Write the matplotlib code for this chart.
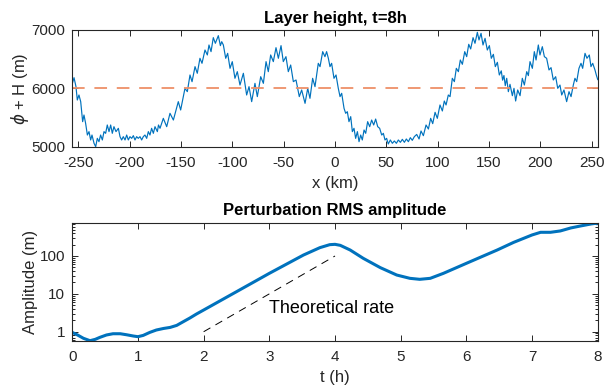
import matplotlib
matplotlib.use('Agg')
import matplotlib.pyplot as plt
from matplotlib.ticker import FixedLocator, FixedFormatter, LogLocator, NullFormatter

plt.rcParams['font.family'] = ['Liberation Sans', 'DejaVu Sans']
plt.rcParams['mathtext.fontset'] = 'dejavusans'
plt.rcParams['axes.unicode_minus'] = False

# ---------------- data: layer height at t = 8 h ----------------
x_km = [-256.0, -254.3, -252.4, -251.1, -249.5, -247.8, -245.9, -244.6, -243.0, -241.3,
        -239.7, -238.1, -236.8, -234.8, -233.2, -231.6, -230.0, -228.4, -226.7, -225.1,
        -223.5, -221.9, -220.2, -218.6, -217.0, -215.4, -213.4, -211.1, -209.5, -207.9,
        -206.3, -204.6, -203.0, -201.4, -199.8, -198.1, -196.5, -194.9, -193.3, -191.7,
        -190.0, -188.4, -186.8, -185.2, -183.5, -181.9, -180.3, -178.7, -177.0, -175.4,
        -173.1, -172.0, -170.5, -167.3, -164.0, -160.8, -157.5, -152.7, -150.4, -147.8,
        -146.2, -143.9, -141.3, -139.3, -136.4, -134.2, -131.6, -129.6, -126.7, -124.4,
        -122.8, -120.8, -118.6, -116.6, -113.7, -111.7, -110.4, -108.8, -106.5, -104.6,
        -102.3, -100.1, -97.5, -95.2, -92.6, -89.3, -86.1, -83.8, -81.2, -78.0,
        -75.7, -72.4, -69.8, -67.2, -65.0, -62.7, -60.1, -57.5, -55.2, -52.6,
        -50.4, -47.8, -45.5, -43.2, -40.6, -38.0, -34.8, -32.5, -29.2, -26.6,
        -24.4, -21.8, -19.5, -16.3, -14.6, -12.0, -9.8, -8.2, -6.5, -4.9,
        -3.3, -1.0, 1.0, 3.2, 4.9, 6.5, 8.8, 10.4, 12.0, 13.6,
        15.3, 16.9, 18.5, 20.1, 21.8, 23.4, 25.0, 26.6, 28.3, 29.9,
        31.8, 33.8, 35.7, 37.7, 39.6, 41.6, 43.5, 45.5, 47.1, 48.7,
        50.3, 51.9, 53.9, 55.9, 57.8, 59.8, 61.7, 63.7, 65.6, 67.6,
        69.5, 71.5, 73.4, 75.3, 77.3, 79.6, 81.9, 83.8, 86.1, 88.7,
        91.0, 93.2, 95.2, 97.5, 99.7, 102.3, 104.6, 106.5, 108.2, 110.4,
        112.1, 114.3, 116.3, 118.2, 120.2, 122.1, 124.1, 126.4, 128.3, 130.3,
        132.2, 134.5, 136.4, 138.7, 140.3, 142.3, 144.2, 146.2, 148.4, 150.4,
        152.3, 154.3, 156.2, 158.2, 160.1, 162.0, 163.3, 164.6, 165.9, 167.3,
        168.9, 170.5, 172.8, 174.4, 176.0, 178.0, 180.3, 182.5, 184.5, 186.8,
        188.4, 190.0, 192.3, 194.2, 195.9, 198.1, 199.7, 202.0, 204.0, 206.2,
        208.5, 210.5, 212.7, 215.0, 217.0, 219.2, 220.9, 223.1, 225.7, 228.0,
        230.0, 232.2, 233.8, 235.5, 237.7, 239.7, 241.3, 243.6, 245.5, 247.8,
        249.4, 251.1, 253.3, 254.6, 256.0]
height_m = [6080, 6183, 6029, 5800, 5886, 5772, 5429, 5543, 5400, 5200,
            5258, 5115, 5200, 5058, 5000, 5143, 5086, 5200, 5115, 5258,
            5229, 5372, 5258, 5372, 5229, 5343, 5258, 5315, 5172, 5115,
            5172, 5115, 5200, 5115, 5172, 5143, 5189, 5115, 5172, 5143,
            5172, 5115, 5172, 5200, 5143, 5258, 5200, 5315, 5229, 5343,
            5258, 5372, 5315, 5486, 5343, 5572, 5457, 5772, 5629, 5858,
            6000, 5943, 6229, 6114, 6372, 6258, 6515, 6429, 6657, 6572,
            6743, 6629, 6869, 6772, 6903, 6732, 6800, 6743, 6515, 6600,
            6343, 6457, 6172, 6286, 6057, 6258, 5886, 6029, 5772, 6086,
            5858, 6200, 6086, 6458, 6286, 6572, 6458, 6697, 6515, 6732,
            6458, 6543, 6286, 6400, 6115, 6143, 5858, 5972, 5743, 6000,
            5829, 6172, 6029, 6429, 6372, 6629, 6543, 6629, 6515, 6372,
            6429, 6172, 6229, 6000, 5858, 5915, 5657, 5572, 5600, 5429,
            5515, 5258, 5315, 5143, 5258, 5086, 5200, 5115, 5286, 5229,
            5429, 5343, 5457, 5372, 5474, 5343, 5315, 5200, 5229, 5115,
            5143, 5046, 5115, 5058, 5098, 5058, 5115, 5075, 5126, 5075,
            5132, 5086, 5155, 5109, 5172, 5210, 5132, 5269, 5189, 5372,
            5303, 5486, 5395, 5589, 5486, 5715, 5612, 5783, 5715, 5886,
            5858, 6172, 6115, 6343, 6286, 6486, 6412, 6629, 6543, 6755,
            6675, 6869, 6772, 6960, 6829, 6943, 6743, 6857, 6657, 6732,
            6515, 6583, 6372, 6446, 6229, 6300, 6140, 6220, 6046, 6172,
            5943, 6069, 5874, 6000, 5783, 5972, 5874, 6172, 6057, 6286,
            6218, 6458, 6343, 6629, 6486, 6743, 6572, 6714, 6543, 6515,
            6315, 6355, 6143, 6200, 6000, 6057, 5886, 5972, 5772, 5943,
            5858, 6057, 6172, 6115, 6343, 6429, 6343, 6600, 6515, 6572,
            6372, 6429, 6315, 6229, 6150]
mean_height = 6000
x_ticks = [-250, -200, -150, -100, -50, 0, 50, 100, 150, 200, 250]
h_ticks = [5000, 6000, 7000]

# ---------------- data: perturbation RMS amplitude ----------------
t_h = [0, 0.08, 0.17, 0.27, 0.35, 0.42, 0.52, 0.62, 0.73, 0.83,
       0.93, 1.0, 1.08, 1.18, 1.28, 1.39, 1.49, 1.59, 1.69, 1.79,
       1.89, 2.0, 2.5, 3.0, 3.52, 3.77, 3.92, 4.0, 4.08, 4.23,
       4.43, 4.69, 4.94, 5.14, 5.29, 5.45, 5.65, 6.0, 6.21, 6.47,
       6.72, 7.0, 7.13, 7.28, 7.43, 7.59, 7.74, 7.9, 7.97, 8.0]
amp_m = [0.96, 0.82, 0.67, 0.58, 0.63, 0.71, 0.82, 0.885, 0.885, 0.83,
         0.77, 0.74, 0.80, 0.96, 1.11, 1.22, 1.30, 1.47, 1.84, 2.30,
         2.93, 3.74, 11.4, 34.8, 106, 166, 199, 203, 191, 144,
         86.7, 49.2, 31.4, 25.7, 24.2, 25.7, 34.8, 64, 92, 144,
         229, 359, 422, 422, 458, 550, 621, 701, 730, 700]
theory_t = [2, 4]
theory_amp = [1, 100]
t_ticks = [0, 1, 2, 3, 4, 5, 6, 7, 8]
amp_ticks = [1, 10, 100]
amp_tick_labels = ['1', '10', '100']

# ---------------- styling ----------------
BLUE = '#0072BD'
ORANGE = '#EE9068'
DARK = '#262626'
TICK_FS = 11
LABEL_FS = 12
TITLE_FS = 12

fig = plt.figure(figsize=(6.11, 3.89), dpi=100)
ax1 = fig.add_axes([0.1183, 0.6229, 0.860, 0.300])
ax2 = fig.add_axes([0.1183, 0.1242, 0.860, 0.3018])


def style(ax):
    for s in ax.spines.values():
        s.set_color(DARK)
        s.set_linewidth(0.8)
    ax.tick_params(which='both', direction='in', top=True, right=True,
                   colors=DARK, labelsize=TICK_FS, width=0.7)
    ax.tick_params(axis='x', pad=7)
    ax.tick_params(axis='y', pad=5)
    ax.tick_params(which='major', length=4)
    ax.tick_params(which='minor', length=2.2)


# top panel
ax1.plot(x_km, height_m, color=BLUE, lw=0.85)
ax1.plot([x_km[0], x_km[-1]], [mean_height, mean_height], color=ORANGE,
         lw=1.3, linestyle=(0, (7.0, 5.4)))
ax1.set_xlim(x_km[0], x_km[-1])
ax1.set_ylim(h_ticks[0], h_ticks[-1])
ax1.set_xticks(x_ticks)
ax1.set_yticks(h_ticks)
style(ax1)
ax1.set_title('Layer height, t=8h', fontsize=TITLE_FS, fontweight='bold',
              color='black', pad=5)
ax1.set_xlabel('x (km)', fontsize=LABEL_FS, color=DARK, labelpad=4)
ax1.set_ylabel(r'$\phi$ + H (m)', fontsize=LABEL_FS, color=DARK, labelpad=0)

# bottom panel
ax2.set_yscale('log')
ax2.plot(t_h, amp_m, color=BLUE, lw=2.2, solid_capstyle='butt')
ax2.plot(theory_t, theory_amp, color='black', lw=0.7, linestyle=(0, (8, 6)))
ax2.text(3.0, 4.15, 'Theoretical rate', fontsize=13, color='black',
         ha='left', va='center')
ax2.set_xlim(t_ticks[0], t_ticks[-1])
ax2.set_ylim(min(amp_m), max(amp_m))
ax2.set_xticks(t_ticks)
ax2.yaxis.set_major_locator(FixedLocator(amp_ticks))
ax2.yaxis.set_major_formatter(FixedFormatter(amp_tick_labels))
ax2.yaxis.set_minor_locator(LogLocator(base=10, subs=range(2, 10)))
ax2.yaxis.set_minor_formatter(NullFormatter())
style(ax2)
ax2.set_title('Perturbation RMS amplitude', fontsize=TITLE_FS,
              fontweight='bold', color='black', pad=6)
ax2.set_xlabel('t (h)', fontsize=LABEL_FS, color=DARK, labelpad=4)
ax2.set_ylabel('Amplitude (m)', fontsize=LABEL_FS, color=DARK, labelpad=1.5)

fig.savefig('out.png', dpi=100, facecolor='white')
